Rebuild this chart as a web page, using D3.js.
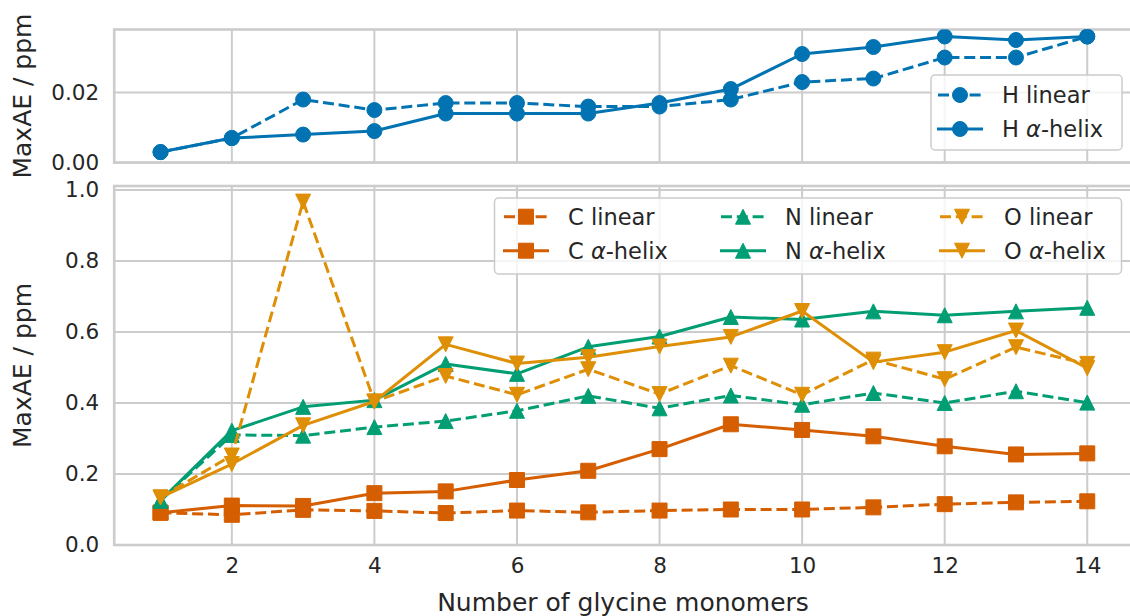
<!DOCTYPE html>
<html>
<head>
<meta charset="utf-8">
<script src="https://cdn.jsdelivr.net/npm/d3@7"></script>
<style>
  html, body { margin: 0; padding: 0; background: #ffffff; }
  svg { display: block; font-family: "DejaVu Sans", sans-serif; }
</style>
</head>
<body>
<svg id="chart" width="1130" height="616"></svg>
<script>
// Number of glycine monomers
const monomers = [1, 2, 3, 4, 5, 6, 7, 8, 9, 10, 11, 12, 13, 14];

// Maximum absolute error (ppm), hydrogen
const hLinear = [0.003, 0.007, 0.018, 0.015, 0.017, 0.017, 0.016, 0.016, 0.018, 0.023, 0.024, 0.030, 0.030, 0.036];
const hHelix  = [0.003, 0.007, 0.008, 0.009, 0.014, 0.014, 0.014, 0.017, 0.021, 0.031, 0.033, 0.036, 0.035, 0.036];

// Maximum absolute error (ppm), heavy atoms
const cLinear = [0.091, 0.085, 0.099, 0.096, 0.090, 0.097, 0.092, 0.097, 0.100, 0.100, 0.106, 0.115, 0.120, 0.123];
const cHelix  = [0.091, 0.111, 0.110, 0.146, 0.151, 0.183, 0.209, 0.270, 0.340, 0.324, 0.306, 0.278, 0.255, 0.258];
const nLinear = [0.125, 0.310, 0.308, 0.332, 0.349, 0.378, 0.420, 0.385, 0.421, 0.395, 0.428, 0.400, 0.433, 0.401];
const nHelix  = [0.125, 0.322, 0.389, 0.408, 0.510, 0.482, 0.558, 0.587, 0.642, 0.635, 0.658, 0.647, 0.658, 0.668];
const oLinear = [0.134, 0.252, 0.967, 0.404, 0.476, 0.423, 0.495, 0.425, 0.505, 0.423, 0.522, 0.467, 0.557, 0.510];
const oHelix  = [0.134, 0.228, 0.337, 0.404, 0.565, 0.511, 0.529, 0.559, 0.586, 0.659, 0.515, 0.543, 0.604, 0.498];

// Tick values
const xTicks = [2, 4, 6, 8, 10, 12, 14];
const yTicksTop = [0.00, 0.02];
const yTicksBottom = [0.0, 0.2, 0.4, 0.6, 0.8, 1.0];

const palette = { H: "#0173b2", C: "#d55e00", N: "#029e73", O: "#de8f05" };

const topSeries = [
  { element: "H", kind: "linear", values: hLinear, marker: "circle", dashed: true },
  { element: "H", kind: "helix",  values: hHelix,  marker: "circle", dashed: false }
];
const bottomSeries = [
  { element: "C", kind: "linear", values: cLinear, marker: "square", dashed: true },
  { element: "C", kind: "helix",  values: cHelix,  marker: "square", dashed: false },
  { element: "N", kind: "linear", values: nLinear, marker: "triangle", dashed: true },
  { element: "N", kind: "helix",  values: nHelix,  marker: "triangle", dashed: false },
  { element: "O", kind: "linear", values: oLinear, marker: "triangle-down", dashed: true },
  { element: "O", kind: "helix",  values: oHelix,  marker: "triangle-down", dashed: false }
];

const svg = d3.select("#chart");
const gridColor = "#cccccc";
const tickFont = 21.5;
const legendFont = 22.5;
const labelFont = 25;
const lineWidth = 3;
const markerSize = 15;
const dashPattern = "11,4.8";

const x = d3.scaleLinear().domain([0.35, 14.65]).range([114.2, 1133.6]);
const yTop = d3.scaleLinear().domain([0, 0.0380]).range([162.6, 29.5]);
const yBottom = d3.scaleLinear().domain([0, 1.011]).range([545, 186]);

function markerPath(type, s) {
  const h = s / 2;
  switch (type) {
    case "square": return `M${-h},${-h}H${h}V${h}H${-h}Z`;
    case "triangle": return `M0,${-h}L${h},${h}L${-h},${h}Z`;
    case "triangle-down": return `M0,${h}L${h},${-h}L${-h},${-h}Z`;
    default: return d3.arc()({ innerRadius: 0, outerRadius: h, startAngle: 0, endAngle: 2 * Math.PI });
  }
}

function drawPanel(y, ticks, fmt, series, showXTicks) {
  const g = svg.append("g");
  const [x0, x1] = x.range();
  const [yb, yt] = y.range();

  // grid
  g.append("g").selectAll("line").data(xTicks).join("line")
    .attr("x1", d => x(d)).attr("x2", d => x(d))
    .attr("y1", yt).attr("y2", yb)
    .attr("stroke", gridColor).attr("stroke-width", 2);
  g.append("g").selectAll("line").data(ticks).join("line")
    .attr("x1", x0).attr("x2", x1)
    .attr("y1", d => y(d)).attr("y2", d => y(d))
    .attr("stroke", gridColor).attr("stroke-width", 2);

  // frame
  g.append("rect")
    .attr("x", x0).attr("y", yt)
    .attr("width", x1 - x0).attr("height", yb - yt)
    .attr("fill", "none").attr("stroke", gridColor).attr("stroke-width", 2.6);

  // y tick labels
  const yAxis = d3.axisLeft(y).tickValues(ticks).tickFormat(fmt).tickSize(0).tickPadding(15);
  const ya = g.append("g").attr("transform", `translate(${x0},0)`).call(yAxis);
  ya.select(".domain").remove();
  ya.selectAll("text").attr("font-size", tickFont).attr("fill", "#262626")
    .attr("font-family", "DejaVu Sans");

  if (showXTicks) {
    const xAxis = d3.axisBottom(x).tickValues(xTicks).tickFormat(d3.format("d")).tickSize(0).tickPadding(13);
    const xa = g.append("g").attr("transform", `translate(0,${yb})`).call(xAxis);
    xa.select(".domain").remove();
    xa.selectAll("text").attr("font-size", tickFont).attr("fill", "#262626")
      .attr("font-family", "DejaVu Sans");
  }

  // series
  const clipId = "clip" + Math.round(yt);
  svg.append("clipPath").attr("id", clipId).append("rect")
    .attr("x", x0).attr("y", yt).attr("width", x1 - x0).attr("height", yb - yt);
  const plot = g.append("g").attr("clip-path", `url(#${clipId})`);
  const line = d3.line().x((d, i) => x(monomers[i])).y(d => y(d));
  series.forEach(s => {
    const color = palette[s.element];
    const sg = plot.append("g");
    sg.append("path").attr("d", line(s.values))
      .attr("fill", "none").attr("stroke", color).attr("stroke-width", lineWidth)
      .attr("stroke-dasharray", s.dashed ? dashPattern : null)
      .attr("stroke-linejoin", "round");
    sg.selectAll("path.m").data(s.values).join("path")
      .attr("class", "m")
      .attr("transform", (d, i) => `translate(${x(monomers[i])},${y(d)})`)
      .attr("d", markerPath(s.marker, markerSize))
      .attr("fill", color).attr("stroke", color).attr("stroke-width", 1);
  });
  return g;
}

function legendLabel(textSel, s) {
  textSel.append("tspan").text(s.element + " ");
  if (s.kind === "linear") {
    textSel.append("tspan").text("linear");
  } else {
    textSel.append("tspan").attr("font-style", "italic").text("α");
    textSel.append("tspan").text("-helix");
  }
}

function drawLegend(box, rows, cols, series) {
  const g = svg.append("g");
  g.append("rect")
    .attr("x", box.x).attr("y", box.y).attr("width", box.w).attr("height", box.h)
    .attr("rx", 4).attr("fill", "#ffffff").attr("fill-opacity", 0.8)
    .attr("stroke", gridColor).attr("stroke-width", 1.5);
  series.forEach((s, i) => {
    const col = Math.floor(i / rows.length);
    const row = i % rows.length;
    const hx = cols[col];
    const cy = rows[row];
    const color = palette[s.element];
    g.append("line")
      .attr("x1", hx).attr("x2", hx + 46).attr("y1", cy).attr("y2", cy)
      .attr("stroke", color).attr("stroke-width", lineWidth)
      .attr("stroke-dasharray", s.dashed ? "11,4.8" : null)
      .attr("stroke-dashoffset", s.dashed ? -1 : null);
    g.append("path")
      .attr("transform", `translate(${hx + 23},${cy})`)
      .attr("d", markerPath(s.marker, markerSize))
      .attr("fill", color).attr("stroke", color).attr("stroke-width", 1);
    const t = g.append("text")
      .attr("x", hx + 65).attr("y", cy)
      .attr("dy", "0.36em")
      .attr("font-size", legendFont).attr("fill", "#262626");
    legendLabel(t, s);
  });
}

// upper panel: hydrogen
drawPanel(yTop, yTicksTop, d3.format(".2f"), topSeries, false);
// lower panel: carbon, nitrogen, oxygen
drawPanel(yBottom, yTicksBottom, d3.format(".1f"), bottomSeries, true);

drawLegend({ x: 931, y: 75, w: 191, h: 75 }, [95, 129], [937], topSeries);
drawLegend({ x: 494.5, y: 198, w: 627, h: 76 }, [216.7, 250.7], [503, 720, 939], bottomSeries);

// axis labels
svg.append("text")
  .attr("transform", `translate(31,${(yTop.range()[0] + yTop.range()[1]) / 2}) rotate(-90)`)
  .attr("text-anchor", "middle").attr("font-size", labelFont).attr("fill", "#262626")
  .text("MaxAE / ppm");
svg.append("text")
  .attr("transform", `translate(31,${(yBottom.range()[0] + yBottom.range()[1]) / 2}) rotate(-90)`)
  .attr("text-anchor", "middle").attr("font-size", labelFont).attr("fill", "#262626")
  .text("MaxAE / ppm");
svg.append("text")
  .attr("x", (434 + 812) / 2).attr("y", 611)
  .attr("text-anchor", "middle").attr("font-size", labelFont).attr("fill", "#262626")
  .text("Number of glycine monomers");
</script>
</body>
</html>
